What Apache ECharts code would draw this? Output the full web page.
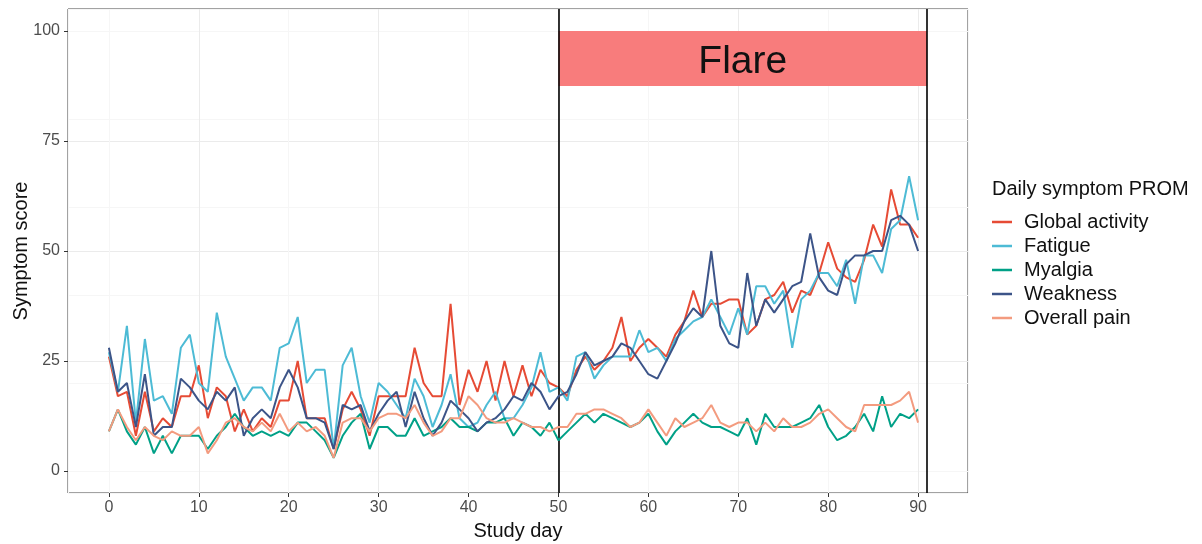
<!DOCTYPE html>
<html><head><meta charset="utf-8">
<script src="https://cdn.jsdelivr.net/npm/echarts@6/dist/echarts.min.js"></script>
<style>html,body{margin:0;padding:0;background:#fff}#c{width:1202px;height:544px}</style>
</head><body><div id="c"></div>
<script>
const days = [0,1,2,3,4,5,6,7,8,9,10,11,12,13,14,15,16,17,18,19,20,21,22,23,24,25,26,27,28,29,30,31,32,33,34,35,36,37,38,39,40,41,42,43,44,45,46,47,48,49,50,51,52,53,54,55,56,57,58,59,60,61,62,63,64,65,66,67,68,69,70,71,72,73,74,75,76,77,78,79,80,81,82,83,84,85,86,87,88,89,90];
const globalActivity = [26,17,18,8,18,9,12,10,17,17,24,12,19,17,9,14,9,12,10,16,16,25,12,12,12,5,14,18,14,8,17,17,17,17,28,20,17,17,38,15,23,18,25,16,25,17,24,17,23,20,19,17,23,26,23,25,28,35,25,28,30,28,26,31,34,41,35,38,38,39,39,31,33,39,40,43,36,41,40,45,52,46,44,43,48,56,51,64,56,56,53];
const fatigue = [27,18,33,11,30,16,17,13,28,31,20,18,36,26,21,16,19,19,16,28,29,35,20,23,23,5,24,28,17,11,20,18,15,12,21,17,10,15,22,12,10,11,15,18,12,12,15,19,27,18,19,16,26,27,21,24,26,26,26,32,27,28,25,30,32,34,35,39,35,31,37,31,42,42,38,41,28,39,41,45,45,42,48,38,49,49,45,55,57,67,57];
const myalgia = [9,14,9,6,10,4,8,4,8,8,8,5,8,10,13,10,8,9,8,9,8,11,11,9,7,3,8,11,13,5,10,10,8,8,12,8,9,10,12,10,10,9,11,11,12,8,11,10,8,11,7,9,11,13,11,13,12,11,10,11,13,9,6,9,11,13,11,10,10,9,8,12,6,13,10,10,10,11,12,15,10,7,8,10,13,9,17,10,13,12,14];
const weakness = [28,18,20,10,22,8,10,10,21,19,16,14,18,16,19,8,12,14,12,19,23,19,12,12,11,5,15,14,15,9,13,16,18,10,18,12,8,11,16,14,12,9,11,12,14,17,16,20,18,14,17,18,22,27,24,25,26,29,28,25,22,21,25,29,34,37,35,50,33,29,28,45,33,39,36,39,42,43,54,44,41,40,47,49,49,50,50,57,58,56,50];
const overallPain = [9,14,10,7,10,8,7,9,8,8,10,4,7,11,12,10,9,11,9,13,9,11,9,10,8,3,11,12,12,9,12,13,13,12,15,11,8,9,12,12,17,15,12,11,11,12,11,10,10,9,10,10,13,13,14,14,13,12,10,11,14,11,8,12,10,11,12,15,11,10,11,11,9,11,9,12,10,10,11,13,14,12,10,9,15,15,15,15,16,18,11];
const seriesNames = ['Global activity','Fatigue','Myalgia','Weakness','Overall pain'];
const seriesColors = ['#E64B35','#4DBBD5','#00A087','#3C5488','#F39B7F'];
const xTicks = [0,10,20,30,40,50,60,70,80,90];
const xMinor = [5,15,25,35,45,55,65,75,85,95];
const yTicks = [0,25,50,75,100];
const yMinor = [12.5,37.5,62.5,87.5];
const flareStart = 50, flareEnd = 91, flareLow = 87.5, flareHigh = 100;
const flareLabel = 'Flare';

const FONT = '"Liberation Sans", Arial, sans-serif';
const values = [globalActivity, fatigue, myalgia, weakness, overallPain];
const chart = echarts.init(document.getElementById('c'));
const lineSeries = values.map((v, k) => ({
  name: seriesNames[k], type: 'line', showSymbol: false, symbol: 'none',
  data: days.map((d, i) => [d, v[i]]),
  lineStyle: {width: 2, color: seriesColors[k]}, itemStyle: {color: seriesColors[k]},
  z: 3 + k
}));
lineSeries.push({
  name: 'annot', type: 'line', data: [], z: 10,
  markArea: {silent: true, z: 1, itemStyle: {color: '#F87C7C', opacity: 1},
    label: {show: true, position: 'inside', formatter: flareLabel, fontSize: 39, color: '#111', fontFamily: FONT, offset: [0, 4]},
    data: [[{xAxis: flareStart, yAxis: flareLow}, {xAxis: flareEnd, yAxis: flareHigh}]]},
  markLine: {silent: true, symbol: 'none', label: {show: false},
    lineStyle: {color: '#000', width: 1.6, type: 'solid'},
    data: [{xAxis: flareStart}, {xAxis: flareEnd}]}
});
const option = {
  animation: false,
  backgroundColor: '#fff',
  textStyle: {fontFamily: FONT},
  title: {text: 'Daily symptom PROM', left: 992, top: 179, padding: 0,
    textStyle: {fontSize: 20, fontWeight: 'normal', color: '#111', fontFamily: FONT}},
  legend: {orient: 'vertical', left: 992, top: 212, icon: 'rect', itemWidth: 20, itemHeight: 2.5,
    itemGap: 4, padding: 0, data: seriesNames,
    textStyle: {fontSize: 20, lineHeight: 20, color: '#111', padding: [0, 0, 0, 7], fontFamily: FONT}},
  grid: {left: 68, right: 234, top: 9, bottom: 51, show: true, borderColor: '#444', borderWidth: 1,
    outerBoundsMode: 'none', containLabel: false},
  xAxis: [
    {type: 'value', min: -4.55, max: 95.55, name: 'Study day', nameLocation: 'middle', nameGap: 28,
      nameTextStyle: {fontSize: 20, color: '#111'},
      axisLine: {show: false, onZero: false},
      axisTick: {show: true, length: 4, inside: false, customValues: xTicks, lineStyle: {color: '#333'}},
      axisLabel: {customValues: xTicks, fontSize: 16, color: '#4d4d4d', margin: 7},
      splitLine: {show: true, customValues: xTicks, lineStyle: {color: '#EBEBEB', width: 1}}},
    {type: 'value', min: -4.55, max: 95.55, position: 'top',
      axisLine: {show: false, onZero: false}, axisTick: {show: false}, axisLabel: {show: false},
      splitLine: {show: true, customValues: xMinor, lineStyle: {color: '#F6F6F6', width: 1}}}
  ],
  yAxis: [
    {type: 'value', min: -5, max: 105, name: 'Symptom score', nameLocation: 'middle', nameGap: 37,
      nameMoveOverlap: false,
      nameTextStyle: {fontSize: 20, color: '#111'},
      axisLine: {show: false, onZero: false},
      axisTick: {show: true, length: 4, inside: false, customValues: yTicks, lineStyle: {color: '#333'}},
      axisLabel: {customValues: yTicks, fontSize: 16, color: '#4d4d4d', margin: 8},
      splitLine: {show: true, customValues: yTicks, lineStyle: {color: '#EBEBEB', width: 1}}},
    {type: 'value', min: -5, max: 105, position: 'right',
      axisLine: {show: false, onZero: false}, axisTick: {show: false}, axisLabel: {show: false},
      splitLine: {show: true, customValues: yMinor, lineStyle: {color: '#F6F6F6', width: 1}}}
  ],
  series: lineSeries
};
chart.setOption(option);
</script></body></html>
